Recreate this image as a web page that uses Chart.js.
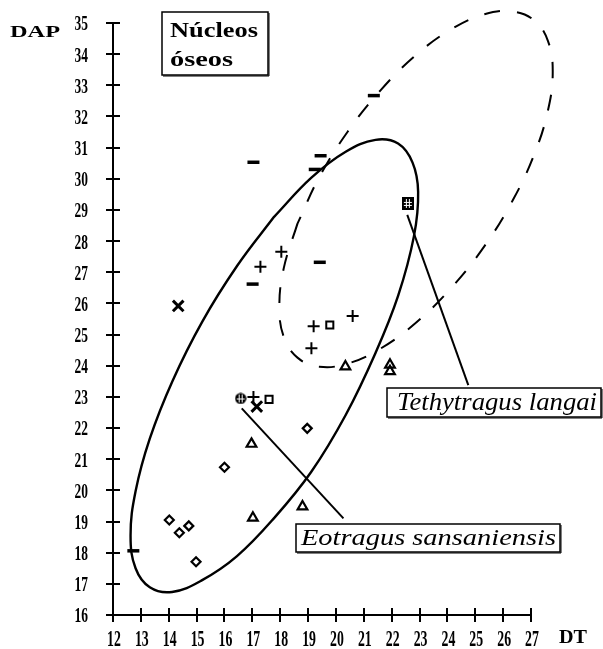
<!DOCTYPE html>
<html>
<head>
<meta charset="utf-8">
<script src="https://cdn.jsdelivr.net/npm/chart.js@4.4.0/dist/chart.umd.min.js"></script>
<style>
  html, body { margin: 0; padding: 0; background: #fff; }
  #wrap { width: 603px; height: 649px; }
</style>
</head>
<body>
<div id="wrap"><canvas id="c" width="603" height="649"></canvas></div>
<script>
// Axis ticks
const dtTicks  = [12, 13, 14, 15, 16, 17, 18, 19, 20, 21, 22, 23, 24, 25, 26, 27];
const dapTicks = [16, 17, 18, 19, 20, 21, 22, 23, 24, 25, 26, 27, 28, 29, 30, 31, 32, 33, 34, 35];

// Specimens, by symbol (DT, DAP)
const dashDT  = [17.04, 19.45, 19.24, 19.42, 17.01, 21.36, 12.73];
const dashDAP = [30.53, 30.74, 30.30, 27.32, 26.62, 32.67, 18.06];

const plusDT  = [17.29, 18.04, 19.20, 20.60, 19.12, 17.04];
const plusDAP = [27.18, 27.66, 25.27, 25.60, 24.56, 23.00];

const squareDT  = [19.78, 17.60];
const squareDAP = [25.31, 22.92];

const diamondDT  = [18.97, 16.00, 14.02, 14.38, 14.72, 14.98];
const diamondDAP = [21.99, 20.74, 19.05, 18.64, 18.86, 17.71];

const triangleDT  = [20.34, 21.94, 21.94, 16.97, 17.02, 18.80];
const triangleDAP = [23.97, 24.03, 23.82, 21.49, 19.12, 19.48];

const crossDT  = [14.34, 17.16];
const crossDAP = [25.92, 22.69];

const eotragusDT  = [16.58];
const eotragusDAP = [22.95];

const tethytragusDT  = [22.58];
const tethytragusDAP = [29.21];

// Outline of the Eotragus sansaniensis range (solid)
const eoRangeDT  = [17.78, 16.45, 15.20, 14.14, 13.32, 12.81, 12.63, 12.81, 13.32, 14.12, 15.20, 16.45,
                    17.78, 19.11, 20.35, 21.42, 22.23, 22.80, 22.95, 22.75, 22.23, 21.42, 20.35, 19.11, 17.78];
const eoRangeDAP = [28.78, 27.20, 25.41, 23.52, 21.66, 19.97, 18.55, 17.50, 16.89, 16.74, 17.12, 17.89,
                    19.11, 20.59, 22.42, 24.41, 26.24, 28.16, 29.58, 30.52, 31.13, 31.25, 30.87, 30.03, 28.78];

// Outline of the Tethytragus langai range (dashed)
const teRangeDT  = [18.62, 18.13, 17.97, 18.13, 18.62, 19.40, 20.42, 21.60, 22.87, 24.14, 25.33, 26.34,
                    27.12, 27.61, 27.78, 27.61, 27.12, 26.34, 25.33, 24.14, 22.87, 21.60, 20.42, 19.40, 18.62];
const teRangeDAP = [28.56, 27.14, 25.90, 24.92, 24.26, 23.97, 24.07, 24.55, 25.38, 26.50, 27.84, 29.30,
                    30.79, 32.20, 33.44, 34.42, 35.08, 35.37, 35.28, 34.80, 33.97, 32.84, 31.51, 30.05, 28.56];

// Label leader lines
const eoLeaderDT  = [16.62, 20.27];
const eoLeaderDAP = [22.63, 19.10];
const teLeaderDT  = [22.56, 24.75];
const teLeaderDAP = [28.84, 23.38];

const pts = (xs, ys) => xs.map((x, i) => ({ x, y: ys[i] }));

// Filled circle with a white grid (Eotragus specimen)
function gridCircle() {
  const c = document.createElement('canvas');
  c.width = 12; c.height = 12;
  const g = c.getContext('2d');
  g.fillStyle = '#000';
  g.beginPath(); g.arc(6, 6, 5.6, 0, Math.PI * 2); g.fill();
  g.strokeStyle = '#fff'; g.lineWidth = 1;
  g.beginPath();
  g.moveTo(4.5, 2); g.lineTo(4.5, 10);
  g.moveTo(7.5, 2); g.lineTo(7.5, 10);
  g.moveTo(2, 6.5); g.lineTo(10, 6.5);
  g.stroke();
  return c;
}
// Filled square with a white grid (Tethytragus specimen)
function gridSquare() {
  const c = document.createElement('canvas');
  c.width = 12; c.height = 13;
  const g = c.getContext('2d');
  g.fillStyle = '#000';
  g.fillRect(0, 0, 12, 13);
  g.strokeStyle = '#fff'; g.lineWidth = 1;
  g.beginPath();
  g.moveTo(4.5, 2); g.lineTo(4.5, 11);
  g.moveTo(7.5, 2); g.lineTo(7.5, 11);
  g.moveTo(2, 5.5); g.lineTo(10, 5.5);
  g.moveTo(2, 8.5); g.lineTo(10, 8.5);
  g.stroke();
  return c;
}

function markers(label, xs, ys, style, radius, width) {
  return {
    label, data: pts(xs, ys), showLine: false,
    pointStyle: style, pointRadius: radius, pointHoverRadius: radius,
    pointBorderWidth: width, pointBorderColor: '#000', pointBackgroundColor: 'rgba(0,0,0,0)'
  };
}
function outline(label, xs, ys, width, dash, tension) {
  return {
    label, data: pts(xs, ys), showLine: true, clip: false,
    borderColor: '#000', borderWidth: width, borderDash: dash,
    tension, pointRadius: 0, pointHoverRadius: 0, fill: false
  };
}

const datasets = [
  markers('–', dashDT, dashDAP, 'line', 6, 3.5),
  markers('+', plusDT, plusDAP, 'cross', 6, 2),
  markers('□', squareDT, squareDAP, 'rect', 5, 2),
  markers('◇', diamondDT, diamondDAP, 'rectRot', 4.5, 2.2),
  markers('△', triangleDT, triangleDAP, 'triangle', 5.6, 2.2),
  markers('x', crossDT, crossDAP, 'crossRot', 7.5, 3),
  markers('Eotragus', eotragusDT, eotragusDAP, gridCircle(), 5, 1),
  markers('Tethytragus', tethytragusDT, tethytragusDAP, gridSquare(), 5, 1),
  outline('Eotragus range', eoRangeDT, eoRangeDAP, 2.4, [], 0.4),
  outline('Tethytragus range', teRangeDT, teRangeDAP, 2, [16, 17], 0.4),
  outline('Eotragus leader', eoLeaderDT, eoLeaderDAP, 2, [], 0),
  outline('Tethytragus leader', teLeaderDT, teLeaderDAP, 2, [], 0)
];

// Text squeezed or stretched to a given width
function fitText(ctx, text, x, baseline, width, font, align) {
  ctx.save();
  ctx.font = font;
  const w = ctx.measureText(text).width;
  const sx = width ? width / w : 1;
  ctx.translate(x, baseline);
  ctx.scale(sx, 1);
  ctx.textAlign = align || 'left';
  ctx.textBaseline = 'alphabetic';
  ctx.fillStyle = '#000';
  ctx.fillText(text, 0, 0);
  ctx.restore();
}
function scaledText(ctx, text, x, y, sx, font, align, base) {
  ctx.save();
  ctx.font = font;
  ctx.translate(x, y);
  ctx.scale(sx, 1);
  ctx.textAlign = align;
  ctx.textBaseline = base;
  ctx.fillStyle = '#000';
  ctx.fillText(text, 0, 0);
  ctx.restore();
}
function labelBox(ctx, x0, y0, x1, y1) {
  ctx.save();
  ctx.fillStyle = '#fff';
  ctx.fillRect(x0, y0, x1 - x0, y1 - y0);
  ctx.strokeStyle = '#000';
  ctx.lineWidth = 1.5;
  ctx.strokeRect(x0, y0, x1 - x0, y1 - y0);
  ctx.lineWidth = 1;
  ctx.beginPath();
  ctx.moveTo(x1 + 1, y0 + 1); ctx.lineTo(x1 + 1, y1 + 1); ctx.lineTo(x0 + 1, y1 + 1);
  ctx.stroke();
  ctx.restore();
}

const serif = '"Liberation Serif", "Times New Roman", serif';

const decor = {
  id: 'decor',
  afterDraw(chart) {
    const { ctx, scales: { x, y }, chartArea } = chart;
    ctx.save();
    ctx.strokeStyle = '#000';
    ctx.lineWidth = 2;
    // ticks crossing both axes
    ctx.beginPath();
    x.ticks.forEach(t => {
      const px = Math.round(x.getPixelForValue(t.value));
      ctx.moveTo(px, chartArea.bottom - 7); ctx.lineTo(px, chartArea.bottom + 7);
    });
    y.ticks.forEach(t => {
      const py = Math.round(y.getPixelForValue(t.value));
      ctx.moveTo(chartArea.left - 7, py); ctx.lineTo(chartArea.left + 7, py);
    });
    ctx.stroke();
    ctx.restore();

    // tick labels, in the narrow bold figures of the axes
    x.ticks.forEach(t => {
      const px = x.getPixelForValue(t.value);
      scaledText(ctx, String(t.value), px + 1, chartArea.bottom + 25, 0.6,
                 'bold 23px ' + serif, 'center', 'middle');
    });
    y.ticks.forEach(t => {
      const py = y.getPixelForValue(t.value);
      scaledText(ctx, String(t.value), chartArea.left - 25, py + 2, 0.64,
                 'bold 21px ' + serif, 'right', 'middle');
    });

    // axis titles
    fitText(ctx, 'DAP', 10, 37, 50, 'bold 17px ' + serif);
    fitText(ctx, 'DT', 559, 643, 28, 'bold 19px ' + serif);

    // title box
    labelBox(ctx, 162, 12, 268, 75);
    fitText(ctx, 'Núcleos', 170, 37, 88, 'bold 21px ' + serif);
    fitText(ctx, 'óseos', 170, 66, 63, 'bold 21px ' + serif);

    // species labels
    labelBox(ctx, 387, 388, 601, 417);
    fitText(ctx, 'Tethytragus langai', 397, 410, 200, 'italic 25px ' + serif);
    labelBox(ctx, 296, 524, 560, 552);
    fitText(ctx, 'Eotragus sansaniensis', 301, 545, 255, 'italic 23px ' + serif);
  }
};

new Chart(document.getElementById('c'), {
  type: 'scatter',
  data: { datasets },
  options: {
    responsive: false,
    animation: false,
    devicePixelRatio: 1,
    layout: { padding: { left: 0, top: 23, right: 72, bottom: 0 } },
    elements: { line: { capBezierPoints: false } },
    plugins: { legend: { display: false }, tooltip: { enabled: false } },
    events: [],
    scales: {
      x: {
        type: 'linear', position: 'bottom', min: 12, max: 27,
        ticks: { display: false },
        grid: { display: false },
        border: { display: true, color: '#000', width: 2 },
        afterBuildTicks: s => { s.ticks = dtTicks.map(v => ({ value: v })); },
        afterFit: s => { s.height = 34; }
      },
      y: {
        type: 'linear', position: 'left', min: 16, max: 35,
        ticks: { display: false },
        grid: { display: false },
        border: { display: true, color: '#000', width: 2 },
        afterBuildTicks: s => { s.ticks = dapTicks.map(v => ({ value: v })); },
        afterFit: s => { s.width = 113; }
      }
    }
  },
  plugins: [decor]
});
</script>
</body>
</html>
